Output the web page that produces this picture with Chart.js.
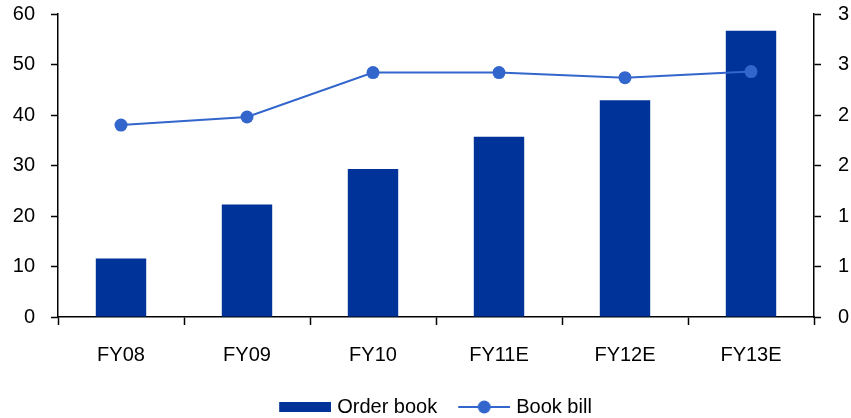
<!DOCTYPE html>
<html>
<head>
<meta charset="utf-8">
<script src="https://cdn.jsdelivr.net/npm/chart.js@4"></script>
<style>
  html, body { margin: 0; padding: 0; background: #fff; }
  #wrap { width: 851px; height: 418px; position: relative; }
</style>
</head>
<body>
<div id="wrap"><canvas id="c"></canvas></div>
<script>
// Daten
const categories = ['FY08', 'FY09', 'FY10', 'FY11E', 'FY12E', 'FY13E'];
const orderBook = [11.6, 22.3, 29.3, 35.7, 42.9, 56.7];
const bookBill = [1.90, 1.98, 2.42, 2.42, 2.37, 2.43];

const barColor = '#003399';
const lineColor = '#3366CC';
const FONT = 'Arial, "Liberation Sans", sans-serif';

// Legendensymbole als kleine Canvas-Bilder (links transparent = Abstand)
const ICON_W = 76;
const SYMBOL_W = 52;
function barIcon() {
    const c = document.createElement('canvas');
    c.width = ICON_W; c.height = 10;
    const ctx = c.getContext('2d');
    ctx.fillStyle = barColor;
    ctx.fillRect(ICON_W - SYMBOL_W, 0, SYMBOL_W, 10);
    return c;
}
function lineIcon() {
    const c = document.createElement('canvas');
    c.width = ICON_W; c.height = 14;
    const ctx = c.getContext('2d');
    ctx.strokeStyle = lineColor;
    ctx.lineWidth = 2;
    ctx.beginPath();
    ctx.moveTo(ICON_W - SYMBOL_W, 7); ctx.lineTo(ICON_W, 7);
    ctx.stroke();
    ctx.fillStyle = lineColor;
    ctx.beginPath();
    ctx.arc(ICON_W - SYMBOL_W / 2, 7, 6.5, 0, Math.PI * 2);
    ctx.fill();
    return c;
}

const icons = [barIcon(), lineIcon()];

// Kein automatisches Label-Padding an den Achsenenden
function noPad(s) {
    s.paddingTop = 0;
    s.paddingBottom = 0;
}

new Chart(document.getElementById('c'), {
    data: {
        labels: categories,
        datasets: [
            {
                type: 'line',
                label: 'Book bill',
                data: bookBill,
                yAxisID: 'y1',
                borderColor: lineColor,
                backgroundColor: lineColor,
                borderWidth: 2,
                pointRadius: 6.5,
                pointHoverRadius: 6.5,
                pointBackgroundColor: lineColor,
                pointBorderWidth: 0,
                tension: 0,
                order: 0
            },
            {
                type: 'bar',
                label: 'Order book',
                data: orderBook,
                yAxisID: 'y',
                backgroundColor: barColor,
                borderWidth: 0,
                categoryPercentage: 0.8,
                barPercentage: 0.5,
                order: 1
            }
        ]
    },
    options: {
        responsive: true,
        maintainAspectRatio: false,
        animation: false,
        layout: { padding: { top: 14, right: 0, bottom: -9, left: 0 } },
        plugins: {
            tooltip: { enabled: false },
            legend: {
                position: 'bottom',
                reverse: true,
                labels: {
                    usePointStyle: true,
                    pointStyleWidth: 68,
                    color: '#000',
                    font: { family: FONT, size: 20 },
                    padding: 1,
                    generateLabels: function(chart) {
                        return chart.data.datasets.map(function(ds, i) {
                            return {
                                text: ds.label,
                                pointStyle: ds.type === 'bar' ? icons[0] : icons[1],
                                datasetIndex: i,
                                fillStyle: 'transparent',
                                strokeStyle: 'transparent',
                                lineWidth: 0,
                                fontColor: '#000'
                            };
                        });
                    }
                }
            }
        },
        scales: {
            x: {
                offset: true,
                afterFit: function(s) {
                    s.height = 79;
                    s.paddingLeft = 0;
                    s.paddingRight = 0;
                },
                grid: {
                    offset: true,
                    drawOnChartArea: false,
                    drawTicks: true,
                    tickLength: 8,
                    tickColor: '#000',
                    tickWidth: 1.5
                },
                border: { color: '#000', width: 1.5 },
                ticks: {
                    color: '#000',
                    font: { family: FONT, size: 20 },
                    padding: 18,
                    maxRotation: 0
                }
            },
            y: {
                position: 'left',
                min: 0,
                max: 60,
                afterFit: function(s) { s.width = 58; noPad(s); },
                grid: {
                    drawOnChartArea: false,
                    tickLength: 7,
                    tickColor: '#000',
                    tickWidth: 1.5
                },
                border: { color: '#000', width: 1.5 },
                ticks: {
                    stepSize: 10,
                    color: '#000',
                    font: { family: FONT, size: 20 },
                    padding: 16
                }
            },
            y1: {
                position: 'right',
                min: 0,
                max: 3,
                afterFit: function(s) { s.width = 37; noPad(s); },
                grid: {
                    drawOnChartArea: false,
                    tickLength: 7,
                    tickColor: '#000',
                    tickWidth: 1.5
                },
                border: { color: '#000', width: 1.5 },
                ticks: {
                    stepSize: 0.5,
                    color: '#000',
                    font: { family: FONT, size: 20 },
                    padding: 17,
                    // Rechte Achse zeigt gerundete Werte (0,1,1,2,2,3,3)
                    callback: function(value) { return Math.round(value); }
                }
            }
        }
    }
});
</script>
</body>
</html>
